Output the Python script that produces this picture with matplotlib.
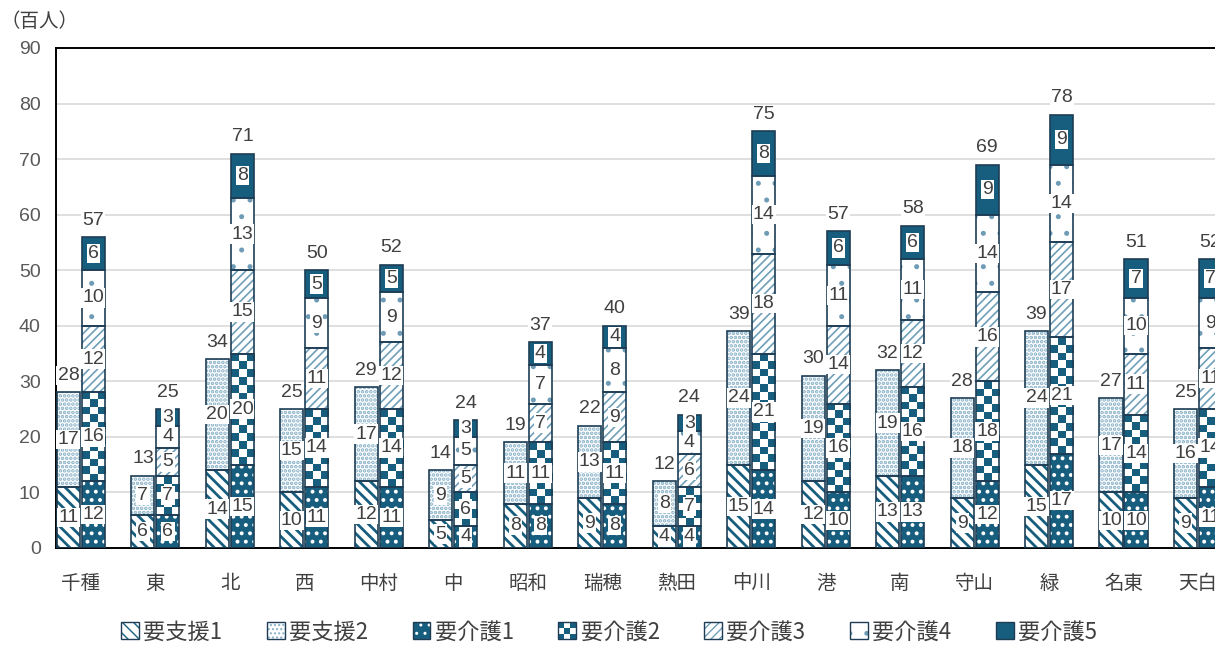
#!/usr/bin/env python
# -*- coding: utf-8 -*-
"""
Stacked bar chart: care-need certification by ward (hundreds of people)
"""

import numpy as np
import matplotlib
matplotlib.use('Agg')
import matplotlib.pyplot as plt
import matplotlib.patches as mpatches
from matplotlib.colors import ListedColormap
from matplotlib.legend_handler import HandlerBase

plt.rcParams['font.family'] = ['Noto Sans CJK JP', 'DejaVu Sans']
plt.rcParams['hatch.linewidth'] = 1.0
NUM_FONT = ['Liberation Sans Narrow', 'Liberation Sans', 'DejaVu Sans']

# ---- data (hundreds of people) ----
wards = ['千種', '東', '北', '西', '中村', '中', '昭和', '瑞穂', '熱田',
         '中川', '港', '南', '守山', '緑', '名東', '天白']

shien1 = [11, 6, 14, 10, 12, 5, 8, 9, 4, 15, 12, 13, 9, 15, 10, 9]
shien2 = [17, 7, 20, 15, 17, 9, 11, 13, 8, 24, 19, 19, 18, 24, 17, 16]
kaigo1 = [12, 6, 15, 11, 11, 4, 8, 8, 4, 14, 10, 13, 12, 17, 10, 11]
kaigo2 = [16, 7, 20, 14, 14, 6, 11, 11, 7, 21, 16, 16, 18, 21, 14, 14]
kaigo3 = [12, 5, 15, 11, 12, 5, 7, 9, 6, 18, 14, 12, 16, 17, 11, 11]
kaigo4 = [10, 4, 13, 9, 9, 5, 7, 8, 4, 14, 11, 11, 14, 14, 10, 9]
kaigo5 = [6, 3, 8, 5, 5, 3, 4, 4, 3, 8, 6, 6, 9, 9, 7, 7]

shien_total = [28, 13, 34, 25, 29, 14, 19, 22, 12, 39, 30, 32, 28, 39, 27, 25]
kaigo_total = [57, 25, 71, 50, 52, 24, 37, 40, 24, 75, 57, 58, 69, 78, 51, 52]

DARK = '#175e7e'
EDGE = '#1e3d55'
TEXT = '#404040'

# label, series, face, hatch, hatch colour, hatch linewidth
SHIEN = [
    ('要支援1', shien1, 'white', '\\\\\\', DARK, 2.0),
    ('要支援2', shien2, 'white', '....', '#86b0c7', 1.8),
]
KAIGO = [
    ('要介護1', kaigo1, DARK, '..', 'white', 1.6),
    ('要介護2', kaigo2, 'white', None, DARK, 1.0),   # checker pattern
    ('要介護3', kaigo3, 'white', '////', '#6f9fb9', 1.2),
    ('要介護4', kaigo4, 'white', '.', '#6e9cb6', 1.2),
    ('要介護5', kaigo5, DARK, None, DARK, 1.0),
]

BAR_W = 0.31
OFFSET = 0.168
CHECK_PX = 7.7

fig = plt.figure(figsize=(12.15, 6.46), dpi=100)
ax = fig.add_axes([56 / 1215, 98 / 646, 1209 / 1215, 500 / 646])
ax.set_xlim(-0.335, 15.9)
ax.set_ylim(0, 90)

x = np.arange(len(wards))
checker_cmap = ListedColormap(['white', DARK])


def label_box():
    return dict(boxstyle='square,pad=0.06', fc='white', ec='none')


def draw_stack(xpos, groups):
    bottom = np.zeros(len(xpos))
    for name, vals, face, hatch, hcol, hlw in groups:
        vals = np.array(vals, dtype=float)
        bars = ax.bar(xpos, vals, BAR_W, bottom=bottom, color=face,
                      edgecolor=hcol, hatch=hatch, linewidth=0, zorder=2)
        if hatch and hasattr(bars[0], 'set_hatch_linewidth'):
            for b in bars:
                b.set_hatch_linewidth(hlw)
        if name == '要介護2':
            # checkerboard image clipped to each bar
            px_per_unit = ax.transData.transform((0, 1))[1] - ax.transData.transform((0, 0))[1]
            for b, v, b0, xc in zip(bars, vals, bottom, xpos):
                rows = max(1, int(round(v * px_per_unit / CHECK_PX)))
                grid = (np.add.outer(np.arange(rows), np.arange(3)) % 2).astype(float)
                im = ax.imshow(grid, cmap=checker_cmap, vmin=0, vmax=1,
                               extent=[xc - BAR_W / 2, xc + BAR_W / 2, b0, b0 + v],
                               aspect='auto', interpolation='nearest',
                               origin='lower', zorder=2.2)
                im.set_clip_path(b)
        ax.bar(xpos, vals, BAR_W, bottom=bottom, fill=False,
               edgecolor=EDGE, linewidth=1.2, zorder=3)
        for xc, b0, v in zip(xpos, bottom, vals):
            ax.text(xc, b0 + v / 2, '{:d}'.format(int(v)), ha='center', va='center',
                    fontsize=14, family=NUM_FONT, color=TEXT,
                    bbox=label_box(), zorder=5)
        bottom = bottom + vals
    return bottom


top_s = draw_stack(x - OFFSET, SHIEN)
top_k = draw_stack(x + OFFSET, KAIGO)

for xs, tops, totals in ((x - OFFSET, top_s, shien_total), (x + OFFSET, top_k, kaigo_total)):
    for xc, t, tot in zip(xs, tops, totals):
        ax.annotate(str(tot), (xc, t), xytext=(0, 6), textcoords='offset points',
                    ha='center', va='bottom', fontsize=14, family=NUM_FONT,
                    color=TEXT, bbox=label_box(), zorder=6)

ax.set_xlim(-0.335, 15.9)
ax.set_ylim(0, 90)

# axes styling
ax.set_yticks(range(0, 91, 10))
ax.set_yticklabels([str(v) for v in range(0, 91, 10)], family=NUM_FONT,
                   fontsize=14, color='#595959')
ax.set_xticks(x)
ax.set_xticklabels(wards, fontsize=14, color=TEXT)
ax.tick_params(axis='y', length=0, pad=11)
ax.tick_params(axis='x', length=0, pad=18)
ax.yaxis.grid(True, color='#d9d9d9', linewidth=1.2)
ax.set_axisbelow(True)
for side in ('left', 'bottom', 'top'):
    ax.spines[side].set_color('black')
    ax.spines[side].set_linewidth(1.4)
ax.spines['right'].set_visible(False)

fig.text(0.0, 1 - 21.5 / 646, '（百人）', ha='left', va='center',
         fontsize=14, color=TEXT)


# legend
class CheckerHandler(HandlerBase):
    def create_artists(self, legend, orig_handle, xdescent, ydescent,
                       width, height, fontsize, trans):
        arts = [mpatches.Rectangle((-xdescent, -ydescent), width, height,
                                   facecolor='white', edgecolor='none', transform=trans)]
        n = 3
        w, h = width / n, height / n
        for i in range(n):
            for j in range(n):
                if (i + j) % 2 == 0:
                    arts.append(mpatches.Rectangle((-xdescent + i * w, -ydescent + j * h), w, h,
                                                   facecolor=DARK, edgecolor='none',
                                                   transform=trans))
        arts.append(mpatches.Rectangle((-xdescent, -ydescent), width, height,
                                       fill=False, edgecolor=EDGE, linewidth=1.0,
                                       transform=trans))
        return arts


handles, labels = [], []
handler_map = {}
for name, vals, face, hatch, hcol, hlw in SHIEN + KAIGO:
    if name == '要介護2':
        h = mpatches.Patch(facecolor='white')
        handler_map[h] = CheckerHandler()
        handles.append(h)
    else:
        fillp = mpatches.Patch(facecolor=face, edgecolor=hcol, hatch=hatch, linewidth=0)
        if hatch and hasattr(fillp, 'set_hatch_linewidth'):
            fillp.set_hatch_linewidth(hlw)
        outp = mpatches.Patch(fill=False, edgecolor=EDGE, linewidth=1.0)
        handles.append((fillp, outp))
    labels.append(name)

fig.legend(handles, labels, handler_map=handler_map, loc='center',
           bbox_to_anchor=(609 / 1215, 1 - 632 / 646), ncol=7, frameon=False,
           fontsize=16, handlelength=0.8, handleheight=0.8, handletextpad=0.2,
           columnspacing=2.0, labelcolor=TEXT)

plt.savefig('out.png', dpi=100)
plt.close()
